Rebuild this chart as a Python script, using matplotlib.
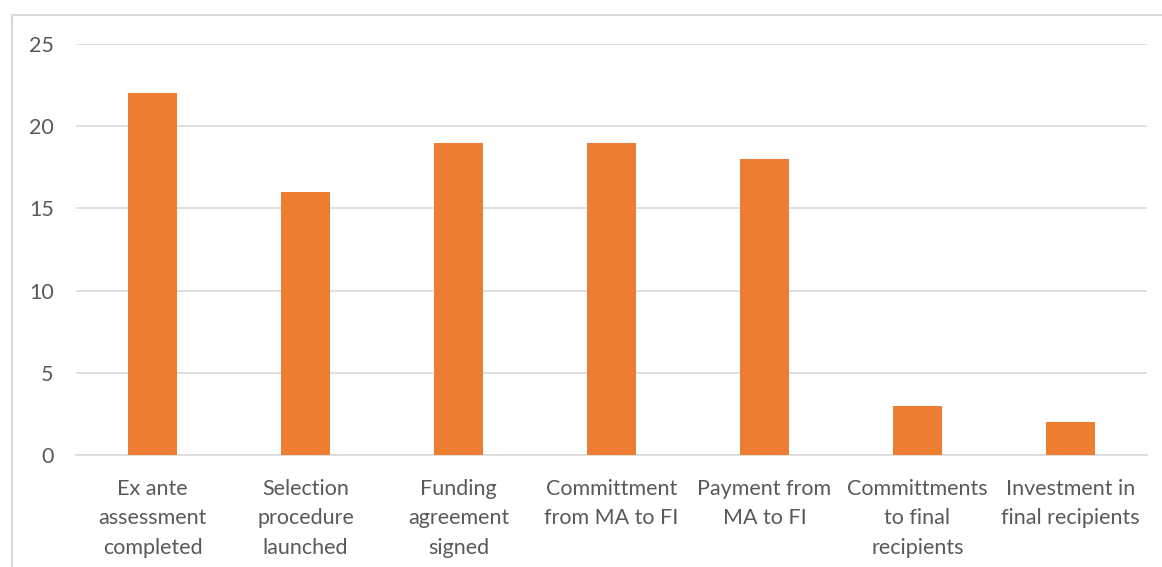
import matplotlib
matplotlib.use("Agg")
import matplotlib.pyplot as plt
from matplotlib.patches import Rectangle

categories = ["Ex ante\nassessment\ncompleted", "Selection\nprocedure\nlaunched",
              "Funding\nagreement\nsigned", "Committment\nfrom MA to FI",
              "Payment from\nMA to FI", "Committments\nto final\nrecipients",
              "Investment in\nfinal recipients"]
values = [22, 16, 19, 19, 18, 3, 2]
yticks = [0, 5, 10, 15, 20, 25]

W, H = 1162, 567
plt.rcParams['font.family'] = ['Lato', 'DejaVu Sans']
fig = plt.figure(figsize=(W/100, H/100), dpi=100)
ax = fig.add_axes([76/W, 1-455/H, (1147-76)/W, (455-44)/H])

x = list(range(len(categories)))
ax.bar(x, values, width=0.314, color="#ED7D31", zorder=3)
ax.set_xlim(-0.5, len(categories)-0.5)
ax.set_ylim(0, 25)
ax.set_yticks(yticks)
ax.set_yticklabels([str(v) for v in yticks])
ax.set_xticks(x)
ax.set_xticklabels(categories, linespacing=1.6)
ax.grid(axis='y', color="#D9D9D9", linewidth=1.2, zorder=0)
for s in ['top', 'right', 'left']:
    ax.spines[s].set_visible(False)
ax.spines['bottom'].set_color("#D9D9D9")
ax.spines['bottom'].set_linewidth(1.2)
ax.tick_params(axis='both', length=0, labelsize=15.5, colors="#595959")
ax.tick_params(axis='y', pad=16)
ax.tick_params(axis='x', pad=17)

fig.patches.append(Rectangle((12/W, -0.1), 1.2, (H-15)/H + 0.1, transform=fig.transFigure,
                             fill=False, edgecolor="#D9D9D9", linewidth=1.5))
fig.savefig("out.png", dpi=100)
